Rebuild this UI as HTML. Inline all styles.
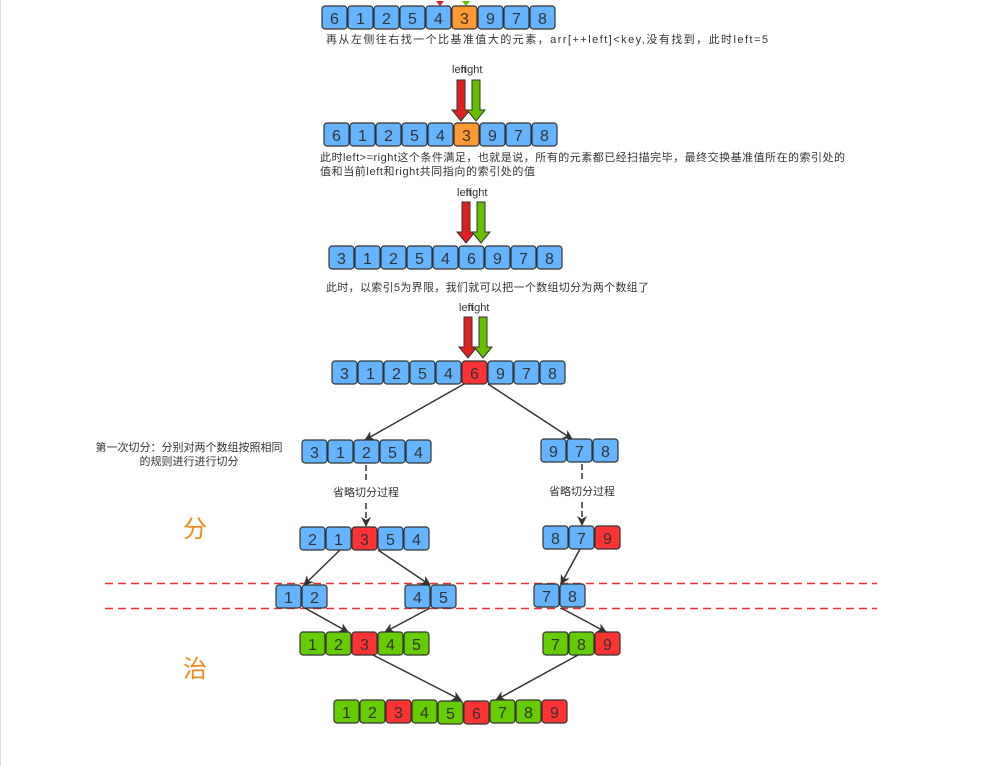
<!DOCTYPE html>
<html><head><meta charset="utf-8"><style>
html,body{margin:0;padding:0;background:#fff;}
svg{display:block;font-family:"Liberation Sans","Noto Sans CJK SC",sans-serif;}
.b{fill:#66b3ff}.o{fill:#ff9933}.r{fill:#ff3333}.g{fill:#66cc00}
rect.c{stroke:#333;stroke-width:1.2}
text.n{font-size:16px;fill:#333;text-anchor:middle}
text.t{font-size:11px;fill:#333}
.ln{stroke:#333;stroke-width:1.5;fill:none}
</style></head><body>
<svg width="992" height="766" viewBox="0 0 992 766" xmlns="http://www.w3.org/2000/svg">
<defs>
<marker id="ah" markerWidth="10" markerHeight="10" refX="9" refY="5" orient="auto" markerUnits="userSpaceOnUse"><path d="M0,0 L10,5 L0,10 L3,5 z" fill="#333"/></marker>
<symbol id="pr" overflow="visible"><path d="M-4,0 H4 V30 H9 L0,41 L-9,30 H-4 Z" fill="#e02020" stroke="#333" stroke-width="1"/></symbol>
<symbol id="pg" overflow="visible"><path d="M-4,0 H4 V30 H9 L0,41 L-9,30 H-4 Z" fill="#66c000" stroke="#333" stroke-width="1"/></symbol>
</defs>
<line x1="0.5" y1="0" x2="0.5" y2="766" stroke="#ddd"/>

<!-- row1 -->
<g transform="translate(322,6)">
<rect class="c b" x="0" y="0" width="25" height="23" rx="3"/><text class="n" x="12.5" y="18">6</text>
<rect class="c b" x="26" y="0" width="25" height="23" rx="3"/><text class="n" x="38.5" y="18">1</text>
<rect class="c b" x="52" y="0" width="25" height="23" rx="3"/><text class="n" x="64.5" y="18">2</text>
<rect class="c b" x="78" y="0" width="25" height="23" rx="3"/><text class="n" x="90.5" y="18">5</text>
<rect class="c b" x="104" y="0" width="25" height="23" rx="3"/><text class="n" x="116.5" y="18">4</text>
<rect class="c o" x="130" y="0" width="25" height="23" rx="3"/><text class="n" x="142.5" y="18">3</text>
<rect class="c b" x="156" y="0" width="25" height="23" rx="3"/><text class="n" x="168.5" y="18">9</text>
<rect class="c b" x="182" y="0" width="25" height="23" rx="3"/><text class="n" x="194.5" y="18">7</text>
<rect class="c b" x="208" y="0" width="25" height="23" rx="3"/><text class="n" x="220.5" y="18">8</text>
</g>
<path d="M436,1 L440,6 L444,1" fill="#e02020"/><path d="M462,1 L466,6 L470,1" fill="#66c000"/>
<text class="t" x="326" y="43" textLength="442" lengthAdjust="spacing">再从左侧往右找一个比基准值大的元素，arr[++left]&lt;key,没有找到，此时left=5</text>

<text class="t" x="452" y="73">left</text><text class="t" x="461" y="73">right</text>
<use href="#pr" x="461" y="80"/><use href="#pg" x="476" y="80"/>
<g transform="translate(324,123)">
<rect class="c b" x="0" y="0" width="25" height="23" rx="3"/><text class="n" x="12.5" y="18">6</text>
<rect class="c b" x="26" y="0" width="25" height="23" rx="3"/><text class="n" x="38.5" y="18">1</text>
<rect class="c b" x="52" y="0" width="25" height="23" rx="3"/><text class="n" x="64.5" y="18">2</text>
<rect class="c b" x="78" y="0" width="25" height="23" rx="3"/><text class="n" x="90.5" y="18">5</text>
<rect class="c b" x="104" y="0" width="25" height="23" rx="3"/><text class="n" x="116.5" y="18">4</text>
<rect class="c o" x="130" y="0" width="25" height="23" rx="3"/><text class="n" x="142.5" y="18">3</text>
<rect class="c b" x="156" y="0" width="25" height="23" rx="3"/><text class="n" x="168.5" y="18">9</text>
<rect class="c b" x="182" y="0" width="25" height="23" rx="3"/><text class="n" x="194.5" y="18">7</text>
<rect class="c b" x="208" y="0" width="25" height="23" rx="3"/><text class="n" x="220.5" y="18">8</text>
</g>
<text class="t" x="320" y="161" textLength="525" lengthAdjust="spacing">此时left&gt;=right这个条件满足，也就是说，所有的元素都已经扫描完毕，最终交换基准值所在的索引处的</text>
<text class="t" x="320" y="175" textLength="215" lengthAdjust="spacing">值和当前left和right共同指向的索引处的值</text>

<text class="t" x="457" y="196">left</text><text class="t" x="466" y="196">right</text>
<use href="#pr" x="466" y="202"/><use href="#pg" x="481" y="202"/>
<g transform="translate(329,246)">
<rect class="c b" x="0" y="0" width="25" height="23" rx="3"/><text class="n" x="12.5" y="18">3</text>
<rect class="c b" x="26" y="0" width="25" height="23" rx="3"/><text class="n" x="38.5" y="18">1</text>
<rect class="c b" x="52" y="0" width="25" height="23" rx="3"/><text class="n" x="64.5" y="18">2</text>
<rect class="c b" x="78" y="0" width="25" height="23" rx="3"/><text class="n" x="90.5" y="18">5</text>
<rect class="c b" x="104" y="0" width="25" height="23" rx="3"/><text class="n" x="116.5" y="18">4</text>
<rect class="c b" x="130" y="0" width="25" height="23" rx="3"/><text class="n" x="142.5" y="18">6</text>
<rect class="c b" x="156" y="0" width="25" height="23" rx="3"/><text class="n" x="168.5" y="18">9</text>
<rect class="c b" x="182" y="0" width="25" height="23" rx="3"/><text class="n" x="194.5" y="18">7</text>
<rect class="c b" x="208" y="0" width="25" height="23" rx="3"/><text class="n" x="220.5" y="18">8</text>
</g>
<text class="t" x="326" y="291" textLength="323" lengthAdjust="spacing">此时，以索引5为界限，我们就可以把一个数组切分为两个数组了</text>

<text class="t" x="459" y="311">left</text><text class="t" x="468" y="311">right</text>
<use href="#pr" x="468" y="317"/><use href="#pg" x="483" y="317"/>
<g transform="translate(332,361)">
<rect class="c b" x="0" y="0" width="25" height="23" rx="3"/><text class="n" x="12.5" y="18">3</text>
<rect class="c b" x="26" y="0" width="25" height="23" rx="3"/><text class="n" x="38.5" y="18">1</text>
<rect class="c b" x="52" y="0" width="25" height="23" rx="3"/><text class="n" x="64.5" y="18">2</text>
<rect class="c b" x="78" y="0" width="25" height="23" rx="3"/><text class="n" x="90.5" y="18">5</text>
<rect class="c b" x="104" y="0" width="25" height="23" rx="3"/><text class="n" x="116.5" y="18">4</text>
<rect class="c r" x="130" y="0" width="25" height="23" rx="3"/><text class="n" x="142.5" y="18">6</text>
<rect class="c b" x="156" y="0" width="25" height="23" rx="3"/><text class="n" x="168.5" y="18">9</text>
<rect class="c b" x="182" y="0" width="25" height="23" rx="3"/><text class="n" x="194.5" y="18">7</text>
<rect class="c b" x="208" y="0" width="25" height="23" rx="3"/><text class="n" x="220.5" y="18">8</text>
</g>
<line class="ln" x1="464" y1="384" x2="365" y2="440" marker-end="url(#ah)"/>
<line class="ln" x1="488" y1="384" x2="572" y2="439" marker-end="url(#ah)"/>

<text class="t" x="189" y="451" text-anchor="middle">第一次切分：分别对两个数组按照相同</text>
<text class="t" x="189" y="465" text-anchor="middle">的规则进行进行切分</text>

<g transform="translate(302,440)">
<rect class="c b" x="0" y="0" width="25" height="23" rx="3"/><text class="n" x="12.5" y="18">3</text>
<rect class="c b" x="26" y="0" width="25" height="23" rx="3"/><text class="n" x="38.5" y="18">1</text>
<rect class="c b" x="52" y="0" width="25" height="23" rx="3"/><text class="n" x="64.5" y="18">2</text>
<rect class="c b" x="78" y="0" width="25" height="23" rx="3"/><text class="n" x="90.5" y="18">5</text>
<rect class="c b" x="104" y="0" width="25" height="23" rx="3"/><text class="n" x="116.5" y="18">4</text>
</g>
<g transform="translate(541,439)">
<rect class="c b" x="0" y="0" width="25" height="23" rx="3"/><text class="n" x="12.5" y="18">9</text>
<rect class="c b" x="26" y="0" width="25" height="23" rx="3"/><text class="n" x="38.5" y="18">7</text>
<rect class="c b" x="52" y="0" width="25" height="23" rx="3"/><text class="n" x="64.5" y="18">8</text>
</g>
<line class="ln" x1="366" y1="465" x2="366" y2="480" stroke-dasharray="6,3"/>
<text class="t" x="366" y="496" text-anchor="middle">省略切分过程</text>
<line class="ln" x1="366" y1="503" x2="366" y2="526" stroke-dasharray="6,3" marker-end="url(#ah)"/>
<line class="ln" x1="582" y1="464" x2="582" y2="479" stroke-dasharray="6,3"/>
<text class="t" x="582" y="495" text-anchor="middle">省略切分过程</text>
<line class="ln" x1="582" y1="502" x2="582" y2="525" stroke-dasharray="6,3" marker-end="url(#ah)"/>

<text x="195" y="537" font-size="24" fill="#f08a1c" text-anchor="middle">分</text>
<g transform="translate(300,527)">
<rect class="c b" x="0" y="0" width="25" height="23" rx="3"/><text class="n" x="12.5" y="18">2</text>
<rect class="c b" x="26" y="0" width="25" height="23" rx="3"/><text class="n" x="38.5" y="18">1</text>
<rect class="c r" x="52" y="0" width="25" height="23" rx="3"/><text class="n" x="64.5" y="18">3</text>
<rect class="c b" x="78" y="0" width="25" height="23" rx="3"/><text class="n" x="90.5" y="18">5</text>
<rect class="c b" x="104" y="0" width="25" height="23" rx="3"/><text class="n" x="116.5" y="18">4</text>
</g>
<g transform="translate(543,526)">
<rect class="c b" x="0" y="0" width="25" height="23" rx="3"/><text class="n" x="12.5" y="18">8</text>
<rect class="c b" x="26" y="0" width="25" height="23" rx="3"/><text class="n" x="38.5" y="18">7</text>
<rect class="c r" x="52" y="0" width="25" height="23" rx="3"/><text class="n" x="64.5" y="18">9</text>
</g>

<line x1="105" y1="583.5" x2="877" y2="583.5" stroke="#ee3333" stroke-width="1.5" stroke-dasharray="8,5"/>
<line x1="105" y1="608.5" x2="877" y2="608.5" stroke="#ee3333" stroke-width="1.5" stroke-dasharray="8,5"/>

<line class="ln" x1="340" y1="550" x2="304" y2="585" marker-end="url(#ah)"/>
<line class="ln" x1="378" y1="550" x2="430" y2="585" marker-end="url(#ah)"/>
<line class="ln" x1="580" y1="549" x2="561" y2="584" marker-end="url(#ah)"/>

<g transform="translate(276,585)">
<rect class="c b" x="0" y="0" width="25" height="23" rx="3"/><text class="n" x="12.5" y="18">1</text>
<rect class="c b" x="26" y="0" width="25" height="23" rx="3"/><text class="n" x="38.5" y="18">2</text>
</g>
<g transform="translate(405,585)">
<rect class="c b" x="0" y="0" width="25" height="23" rx="3"/><text class="n" x="12.5" y="18">4</text>
<rect class="c b" x="26" y="0" width="25" height="23" rx="3"/><text class="n" x="38.5" y="18">5</text>
</g>
<g transform="translate(534,584)">
<rect class="c b" x="0" y="0" width="25" height="23" rx="3"/><text class="n" x="12.5" y="18">7</text>
<rect class="c b" x="26" y="0" width="25" height="23" rx="3"/><text class="n" x="38.5" y="18">8</text>
</g>

<line class="ln" x1="305" y1="608" x2="348" y2="632" marker-end="url(#ah)"/>
<line class="ln" x1="430" y1="608" x2="385" y2="632" marker-end="url(#ah)"/>
<line class="ln" x1="561" y1="608" x2="606" y2="632" marker-end="url(#ah)"/>

<g transform="translate(300,632)">
<rect class="c g" x="0" y="0" width="25" height="23" rx="3"/><text class="n" x="12.5" y="18">1</text>
<rect class="c g" x="26" y="0" width="25" height="23" rx="3"/><text class="n" x="38.5" y="18">2</text>
<rect class="c r" x="52" y="0" width="25" height="23" rx="3"/><text class="n" x="64.5" y="18">3</text>
<rect class="c g" x="78" y="0" width="25" height="23" rx="3"/><text class="n" x="90.5" y="18">4</text>
<rect class="c g" x="104" y="0" width="25" height="23" rx="3"/><text class="n" x="116.5" y="18">5</text>
</g>
<g transform="translate(543,632)">
<rect class="c g" x="0" y="0" width="25" height="23" rx="3"/><text class="n" x="12.5" y="18">7</text>
<rect class="c g" x="26" y="0" width="25" height="23" rx="3"/><text class="n" x="38.5" y="18">8</text>
<rect class="c r" x="52" y="0" width="25" height="23" rx="3"/><text class="n" x="64.5" y="18">9</text>
</g>
<text x="195" y="677" font-size="24" fill="#f08a1c" text-anchor="middle">治</text>

<line class="ln" x1="373" y1="655" x2="461" y2="700" marker-end="url(#ah)"/>
<line class="ln" x1="578" y1="655" x2="496" y2="700" marker-end="url(#ah)"/>

<g transform="translate(334,700)">
<rect class="c g" x="0" y="0" width="25" height="23" rx="3"/><text class="n" x="12.5" y="18">1</text>
<rect class="c g" x="26" y="0" width="25" height="23" rx="3"/><text class="n" x="38.5" y="18">2</text>
<rect class="c r" x="52" y="0" width="25" height="23" rx="3"/><text class="n" x="64.5" y="18">3</text>
<rect class="c g" x="78" y="0" width="25" height="23" rx="3"/><text class="n" x="90.5" y="18">4</text>
<rect class="c g" x="104" y="1" width="25" height="23" rx="3"/><text class="n" x="116.5" y="19">5</text>
<rect class="c r" x="130" y="1" width="25" height="23" rx="3"/><text class="n" x="142.5" y="19">6</text>
<rect class="c g" x="156" y="0" width="25" height="23" rx="3"/><text class="n" x="168.5" y="18">7</text>
<rect class="c g" x="182" y="0" width="25" height="23" rx="3"/><text class="n" x="194.5" y="18">8</text>
<rect class="c r" x="208" y="0" width="25" height="23" rx="3"/><text class="n" x="220.5" y="18">9</text>
</g>
</svg>
</body></html>
